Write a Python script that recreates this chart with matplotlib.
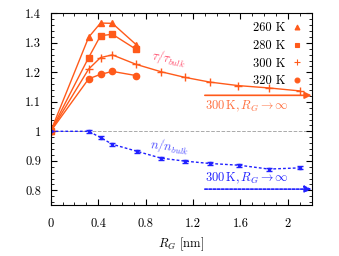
import numpy as np
import matplotlib
matplotlib.use('Agg')
import matplotlib.pyplot as plt
from matplotlib.ticker import MultipleLocator
from matplotlib.lines import Line2D

plt.rcParams['font.family'] = 'serif'
plt.rcParams['font.serif'] = ['cmr10', 'DejaVu Serif']
plt.rcParams['mathtext.fontset'] = 'cm'
plt.rcParams['axes.formatter.use_mathtext'] = True
plt.rcParams['font.size'] = 9

# tau / tau_bulk for different temperatures
x_t = [0, 0.32, 0.42, 0.52, 0.72]
tau_260 = [1.0, 1.319, 1.367, 1.366, 1.294]
tau_280 = [1.0, 1.250, 1.324, 1.329, 1.278]
tau_320 = [1.0, 1.178, 1.193, 1.203, 1.189]

x_300 = [0, 0.32, 0.42, 0.52, 0.72, 0.93, 1.13, 1.34, 1.58, 1.84, 2.10]
tau_300 = [1.0, 1.211, 1.250, 1.259, 1.227, 1.202, 1.183, 1.167, 1.155, 1.147, 1.137]

# n / n_bulk
x_n = [0, 0.32, 0.42, 0.52, 0.73, 0.93, 1.13, 1.34, 1.59, 1.84, 2.10]
n_rel = [1.0, 1.0, 0.979, 0.956, 0.932, 0.909, 0.899, 0.891, 0.885, 0.872, 0.876]
n_err = [0.0, 0.005, 0.005, 0.005, 0.005, 0.005, 0.005, 0.005, 0.005, 0.005, 0.005]

# bulk limits
tau_inf = 1.122
n_inf = 0.804
x_arrow = 1.30

labels = ['260 K', '280 K', '300 K', '320 K']
markers = ['^', 's', '+', 'o']

red = '#ff5a1a'
blue = '#2020ff'

fig = plt.figure(figsize=(3.39, 2.56), dpi=100)
ax = fig.add_axes([0.1496, 0.199, 0.7694, 0.749])

ax.axhline(1.0, color='#aaaaaa', ls='--', lw=0.7, zorder=1)

ax.plot(x_t, tau_260, color=red, marker='^', ms=4.5, lw=1.0)
ax.plot(x_t, tau_280, color=red, marker='s', ms=4.5, lw=1.0)
ax.plot(x_300, tau_300, color=red, marker='+', ms=6, mew=1.0, lw=1.0)
ax.plot(x_t, tau_320, color=red, marker='o', ms=4.5, lw=1.0)

ax.errorbar(x_n, n_rel, yerr=n_err, color=blue, marker='s', ms=2, lw=1.0,
            ls=(0, (2, 1.5)), capsize=2, elinewidth=0.8, zorder=2)

ax.annotate('', xy=(2.2, tau_inf), xytext=(x_arrow, tau_inf),
            arrowprops=dict(arrowstyle='-|>', color=red, lw=1.2,
                            mutation_scale=10, shrinkA=0, shrinkB=0))
ax.annotate('', xy=(2.2, n_inf), xytext=(x_arrow, n_inf),
            arrowprops=dict(arrowstyle='-|>', color=blue, lw=1.2, ls=(0, (1.5, 1)),
                            mutation_scale=10, shrinkA=0, shrinkB=0))

ax.text(x_arrow, tau_inf - 0.012, r'300$\,$K$,R_G\to\infty$', color='#ff7040',
        ha='left', va='top', fontsize=9)
ax.text(x_arrow, n_inf + 0.01, r'300$\,$K$,R_G\to\infty$', color=blue,
        ha='left', va='bottom', fontsize=9)
ax.text(1.0, 1.246, r'$\tau/\tau_{bulk}$', color='#ff4a6a', rotation=-11,
        ha='center', va='center', fontsize=9)
ax.text(1.0, 0.948, r'$n/n_{bulk}$', color='#4a4aff', rotation=-7,
        ha='center', va='center', fontsize=9)

ax.set_xlim(0, 2.2)
ax.set_ylim(0.75, 1.4)
ax.xaxis.set_minor_locator(MultipleLocator(0.1))
ax.yaxis.set_minor_locator(MultipleLocator(0.02))
ax.set_xticks([0, 0.4, 0.8, 1.2, 1.6, 2.0])
ax.set_xticklabels(['0', '0.4', '0.8', '1.2', '1.6', '2'])
ax.set_yticks([0.8, 0.9, 1.0, 1.1, 1.2, 1.3, 1.4])
ax.set_yticklabels(['0.8', '0.9', '1', '1.1', '1.2', '1.3', '1.4'])
ax.tick_params(which='both', direction='in', top=True, right=True)
ax.tick_params(which='major', length=4)
ax.tick_params(axis='x', which='major', pad=9)
ax.tick_params(axis='y', which='major', pad=7)
ax.tick_params(which='minor', length=2)
ax.set_xlabel(r'$R_G$ [nm]', labelpad=4)

handles = [Line2D([], [], color=red, ls='none', marker=m, ms=3.5 if m != '+' else 5, mew=0.8)
           for m in markers]
ax.legend(handles, labels, loc='upper right', frameon=False, markerfirst=False,
          handlelength=1.0, handletextpad=0.4, labelspacing=0.45, fontsize=9,
          borderaxespad=0.3)

fig.savefig('out.png', dpi=100)
